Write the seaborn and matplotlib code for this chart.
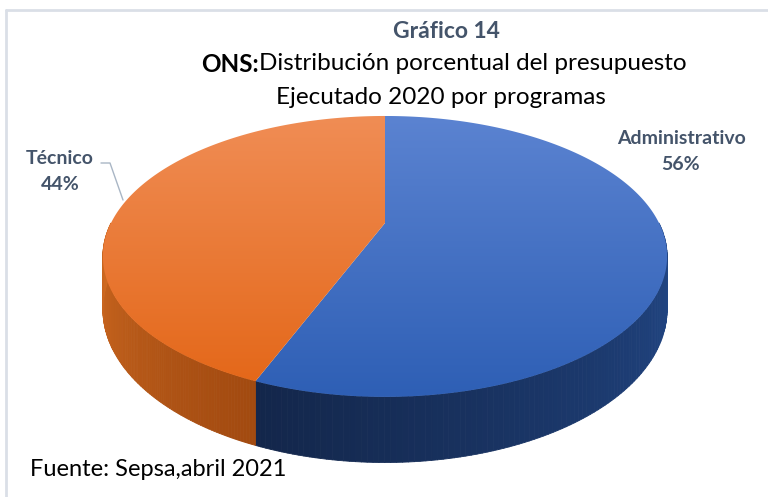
import numpy as np
import matplotlib
matplotlib.use('agg')
import matplotlib.pyplot as plt
from matplotlib.patches import Polygon
from matplotlib.collections import PolyCollection
import seaborn as sns

# data
programas = ["Administrativo", "Técnico"]
porcentajes = [56, 44]
etiquetas = ["56%", "44%"]

sns.set_theme(style="white")
plt.rcParams['font.family'] = ['Lato', 'DejaVu Sans']

# colours per slice: top light/dark, side light/dark
top_cols = [("#5B83D1", "#2E5FB5"), ("#F08D55", "#E4681A")]
side_cols = [("#234A8C", "#13264A"), ("#A24A10", "#D26C22")]

fig = plt.figure(figsize=(7.68, 4.97), dpi=100)
ax = fig.add_axes([0, 0, 1, 1])
ax.set_xlim(0, 768)
ax.set_ylim(497, 0)
ax.axis('off')

# pie geometry (pixels) with a bit of perspective
cx, cy, rx, ry, k, depth = 385, 223, 274, 132.5, 0.238, 50


def proj(t, z=0.0):
    u, v = np.cos(t), np.sin(t)
    s = 1.0 / (1.0 - k * v)
    return cx + rx * u * s, cy + ry * v * s + z * s


# slices clockwise from the top (t=-90 deg)
frac = np.array(porcentajes, dtype=float) / sum(porcentajes)
bounds = np.deg2rad(-90 + 360 * np.concatenate([[0], np.cumsum(frac)]))

# side walls (front half only)
for i in range(len(programas)):
    a, b = max(bounds[i], 0.0), min(bounds[i + 1], np.pi)
    if b <= a:
        continue
    ts = np.linspace(a, b, 120)
    cmap = sns.blend_palette([side_cols[i][0], side_cols[i][1]], as_cmap=True)
    polys, fcs = [], []
    for j in range(len(ts) - 1):
        x0, y0 = proj(ts[j]); x1, y1 = proj(ts[j + 1])
        x2, y2 = proj(ts[j + 1], depth); x3, y3 = proj(ts[j], depth)
        polys.append([(x0, y0), (x1, y1), (x2, y2), (x3, y3)])
        fcs.append(cmap((ts[j] - a) / (b - a)))
    pc = PolyCollection(polys, facecolors=fcs, edgecolors=fcs, linewidths=0.6, zorder=2)
    ax.add_collection(pc)

# tops with vertical gradient
for i in range(len(programas)):
    ts = np.linspace(bounds[i], bounds[i + 1], 300)
    pts = [proj(t) for t in ts] + [(cx, cy)]
    pts = np.array(pts)
    patch = Polygon(pts, closed=True, facecolor='none', edgecolor='none', zorder=3)
    ax.add_patch(patch)
    cmap = sns.blend_palette([top_cols[i][0], top_cols[i][1]], as_cmap=True)
    grad = np.linspace(0, 1, 256).reshape(-1, 1)
    im = ax.imshow(grad, cmap=cmap, aspect='auto', origin='upper', zorder=3,
                   extent=[pts[:, 0].min(), pts[:, 0].max(), pts[:, 1].max(), pts[:, 1].min()])
    im.set_clip_path(patch)

ax.set_xlim(0, 768)
ax.set_ylim(497, 0)

# frame
ax.plot([6, 768], [10, 10], color="#DADFE7", lw=2, zorder=1)
ax.plot([6, 6], [10, 497], color="#DADFE7", lw=2, zorder=1)

# titles
ax.text(446, 31, "Gráfico 14", ha='center', va='center', fontsize=16.5,
        fontweight='bold', color="#44546A")
t1 = ax.text(0, 64, "ONS:", ha='left', va='center', fontsize=17.5, fontweight='bold', color='black')
t2 = ax.text(0, 64, "Distribución porcentual del presupuesto", ha='left', va='center',
             fontsize=17.5, color='black')
r = fig.canvas.get_renderer()
inv = ax.transData.inverted()
w1 = inv.transform(t1.get_window_extent(r))[:, 0]
w2 = inv.transform(t2.get_window_extent(r))[:, 0]
w1 = w1[1] - w1[0]; w2 = w2[1] - w2[0]
x_start = 444 - (w1 + w2) / 2
t1.set_x(x_start)
t2.set_x(x_start + w1)
ax.text(441, 97, "Ejecutado 2020 por programas", ha='center', va='center', fontsize=17.5, color='black')

# slice labels
lab_col = "#44546A"
ax.text(681, 138, programas[0], ha='center', va='center', fontsize=14, fontweight='bold', color=lab_col)
ax.text(681, 165, etiquetas[0], ha='center', va='center', fontsize=14, fontweight='bold', color=lab_col)
ax.text(60, 158, programas[1], ha='center', va='center', fontsize=14, fontweight='bold', color=lab_col)
ax.text(60, 185, etiquetas[1], ha='center', va='center', fontsize=14, fontweight='bold', color=lab_col)
ax.plot([101, 110, 123], [163, 163, 200], color="#A9B6C5", lw=1, zorder=4)

# source
ax.text(30, 470, "Fuente: Sepsa,abril 2021", ha='left', va='center', fontsize=17, color='black')

fig.savefig("out.png", dpi=100)
